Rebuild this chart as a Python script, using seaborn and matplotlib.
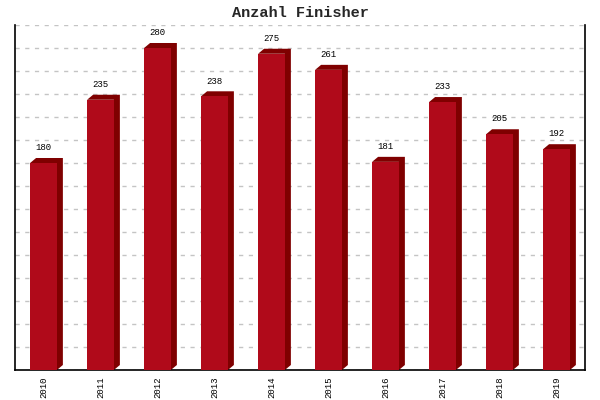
import numpy as np
import pandas as pd
import matplotlib
matplotlib.use("Agg")
import matplotlib.pyplot as plt
from matplotlib.patches import Polygon
import seaborn as sns

# --- DATOS ---
jahre = ['2010', '2011', '2012', '2013', '2014', '2015', '2016', '2017', '2018', '2019']
finisher = [180, 235, 280, 238, 275, 261, 181, 233, 205, 192]
# -------------

FRONT = '#b00a1a'
DARK = '#7f0000'
DEPTH_X = 0.105   # Tiefe in Kategorie-Einheiten (~6 px)
DEPTH_Y = 4.35    # Tiefe in Werteinheiten (~5 px)

df = pd.DataFrame({'Jahr': jahre, 'Finisher': finisher})

sns.set_style('white')
plt.rcParams['font.family'] = ['Liberation Mono', 'DejaVu Sans Mono']

fig = plt.figure(figsize=(6, 4), dpi=100)
ax = fig.add_axes([0.025, 0.075, 0.95, 0.8625])

sns.barplot(data=df, x='Jahr', y='Finisher', color=FRONT, width=0.47,
            saturation=1, edgecolor='none', linewidth=0, ax=ax, zorder=3)

# 3D-Effekt: Oberseite und rechte Seite
for bar, wert in zip(ax.patches, finisher):
    x0 = bar.get_x()
    x1 = x0 + bar.get_width()
    h = bar.get_height()
    pts = [(x0, h), (x0 + DEPTH_X, h + DEPTH_Y), (x1 + DEPTH_X, h + DEPTH_Y),
           (x1 + DEPTH_X, DEPTH_Y), (x1, 0), (x1, h)]
    ax.add_patch(Polygon(pts, closed=True, facecolor=DARK, edgecolor='none', zorder=2))
    ax.text(x0 + bar.get_width() / 2, h + DEPTH_Y + 5, str(wert),
            ha='center', va='bottom', fontsize=6.5, color='black')

ax.set_xlim(-0.5, len(jahre) - 0.5)
ax.set_ylim(0, 300)
ax.set_yticks(np.arange(0, 301, 20))
ax.set_yticklabels([])
ax.tick_params(axis='both', length=0)
ax.tick_params(axis='x', labelrotation=90, labelsize=6.5, labelcolor='black', pad=5)
ax.yaxis.grid(True, color='#c4c4c4', linestyle=(0, (3, 4)), linewidth=1)
ax.set_axisbelow(True)

ax.set_xlabel('')
ax.set_ylabel('')
for side in ['left', 'right', 'bottom']:
    ax.spines[side].set_color('black')
    ax.spines[side].set_linewidth(1.2)
ax.spines['top'].set_visible(False)

fig.suptitle('Anzahl Finisher', fontsize=11, fontweight='bold', y=0.985)

plt.savefig('out.png', dpi=100)
